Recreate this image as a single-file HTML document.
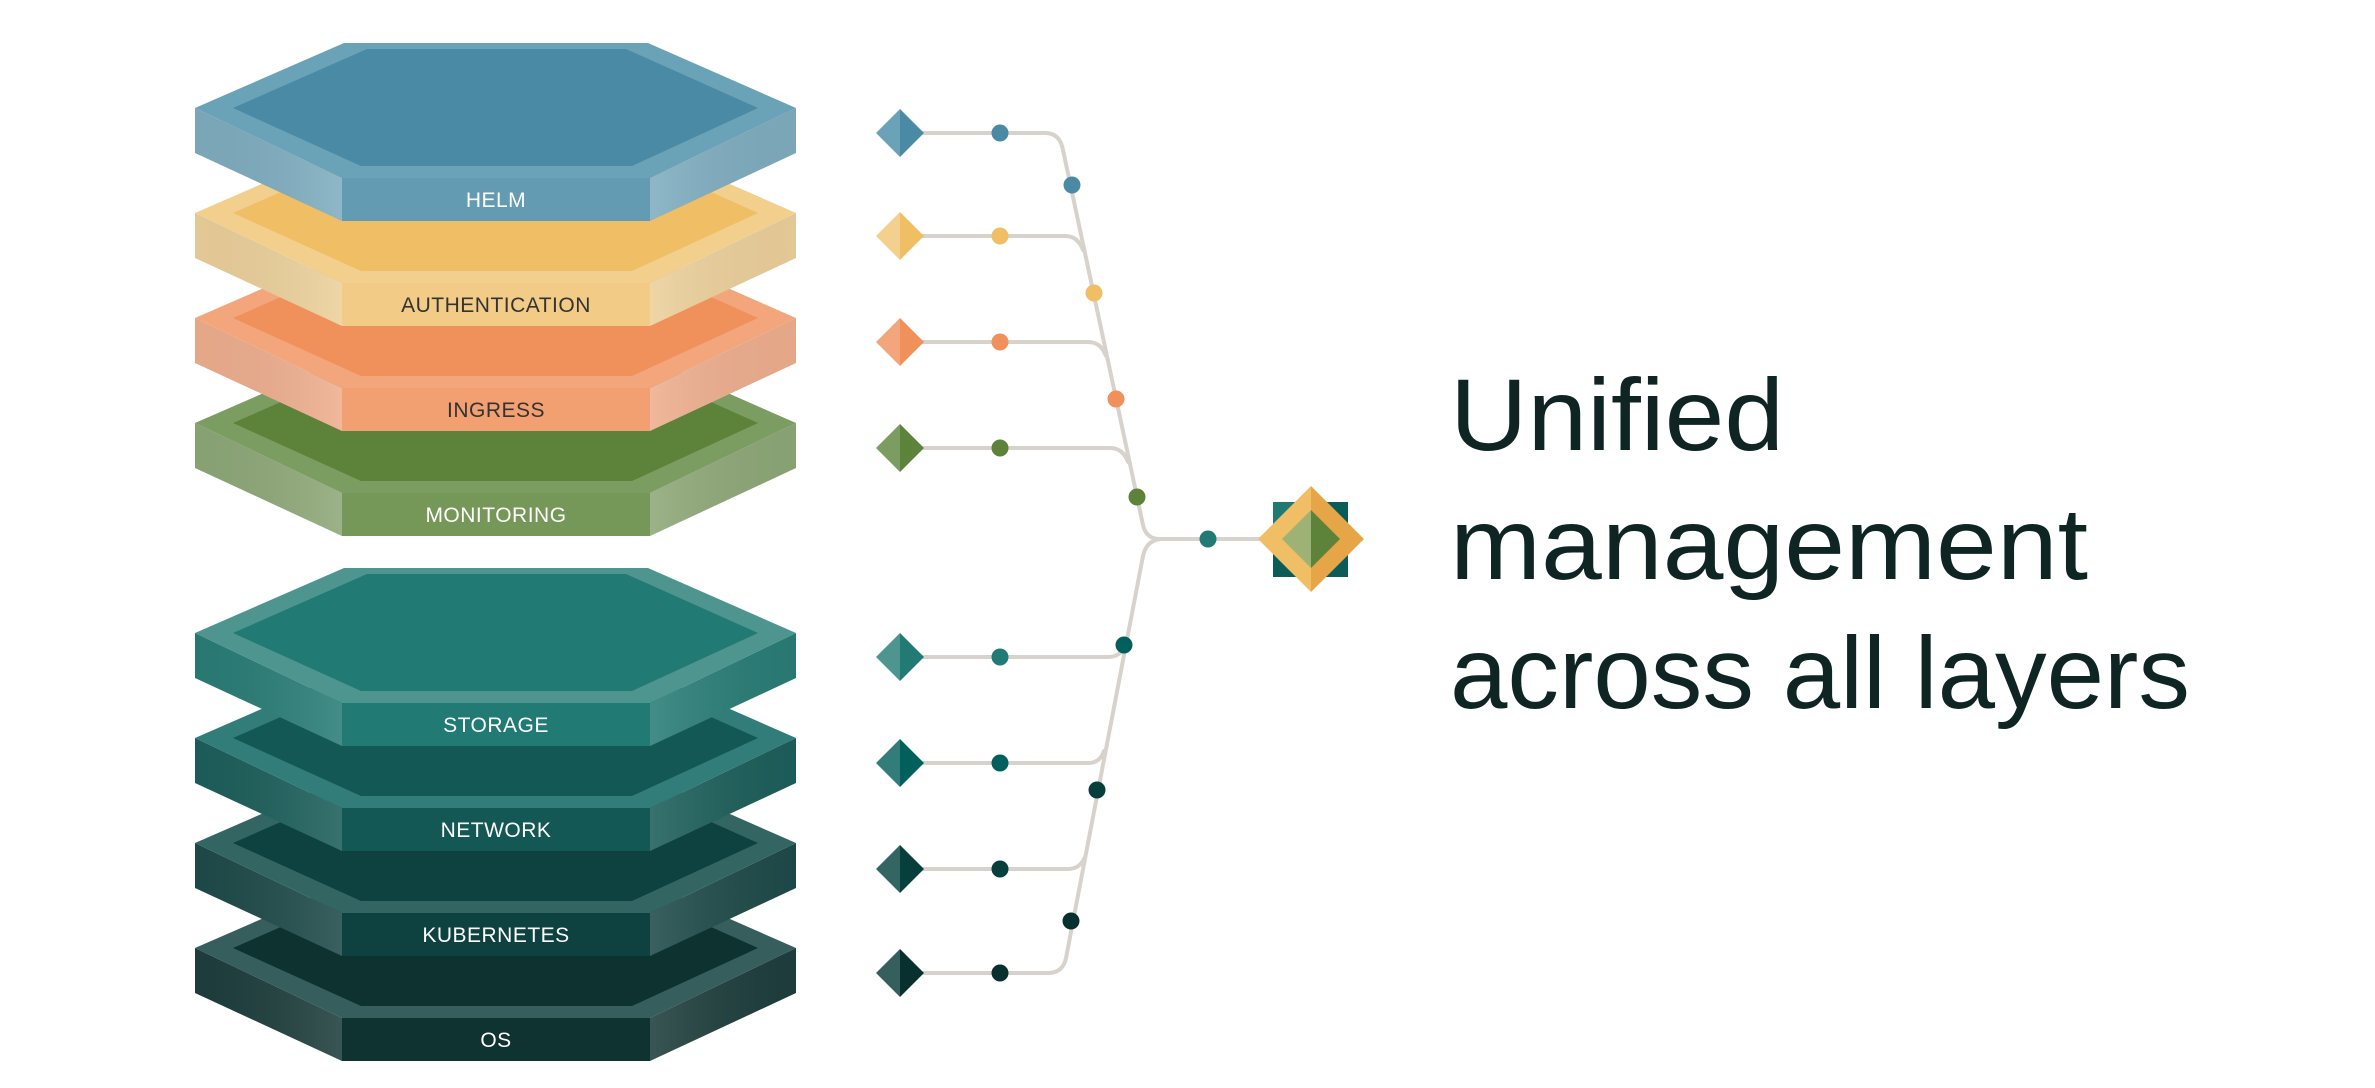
<!DOCTYPE html>
<html><head><meta charset="utf-8"><style>
html,body{margin:0;padding:0;background:#fff;}
svg{display:block;}
text{font-family:"Liberation Sans",sans-serif;}
</style></head><body>
<svg width="2375" height="1088" viewBox="0 0 2375 1088" xmlns="http://www.w3.org/2000/svg">
<defs>
<linearGradient id="gl" x1="0" y1="0" x2="1" y2="0"><stop offset="0" stop-color="#000" stop-opacity="0.04"/><stop offset="1" stop-color="#fff" stop-opacity="0.12"/></linearGradient>
<linearGradient id="gr" x1="0" y1="0" x2="1" y2="0"><stop offset="0" stop-color="#fff" stop-opacity="0.12"/><stop offset="1" stop-color="#000" stop-opacity="0.04"/></linearGradient>
<g id="sides">
<polygon points="195,108 342,178 342,221 195,153" fill="url(#gl)"/>
<polygon points="650,178 796,108 796,153 650,221" fill="url(#gr)"/>
</g>
</defs>

<g transform="translate(0,840)">
<polygon points="195,108 342,178 342,221 195,153" fill="#1e3e3d"/><polygon points="650,178 796,108 796,153 650,221" fill="#1e3e3d"/><use href="#sides"/>
<polygon points="342,178 650,178 650,221 342,221" fill="#0e3331"/>
<polygon points="344,43 648,43 796,108 650,178 342,178 195,108" fill="#365e5c"/>
<polygon points="367,49 626,49 758,108 632,166 361,166 233,108" fill="#0d3230"/>
<text x="496" y="207" font-size="21" fill="#fff" text-anchor="middle" letter-spacing="0.5">OS</text>
</g>
<g transform="translate(0,735)">
<polygon points="195,108 342,178 342,221 195,153" fill="#1f4b4a"/><polygon points="650,178 796,108 796,153 650,221" fill="#1f4b4a"/><use href="#sides"/>
<polygon points="342,178 650,178 650,221 342,221" fill="#0e4240"/>
<polygon points="344,43 648,43 796,108 650,178 342,178 195,108" fill="#336663"/>
<polygon points="367,49 626,49 758,108 632,166 361,166 233,108" fill="#0d4240"/>
<text x="496" y="207" font-size="21" fill="#fff" text-anchor="middle" letter-spacing="0.5">KUBERNETES</text>
</g>
<g transform="translate(0,630)">
<polygon points="195,108 342,178 342,221 195,153" fill="#1d5f5b"/><polygon points="650,178 796,108 796,153 650,221" fill="#1d5f5b"/><use href="#sides"/>
<polygon points="342,178 650,178 650,221 342,221" fill="#145855"/>
<polygon points="344,43 648,43 796,108 650,178 342,178 195,108" fill="#327d79"/>
<polygon points="367,49 626,49 758,108 632,166 361,166 233,108" fill="#145855"/>
<text x="496" y="207" font-size="21" fill="#fff" text-anchor="middle" letter-spacing="0.5">NETWORK</text>
</g>
<g transform="translate(0,525)">
<polygon points="195,108 342,178 342,221 195,153" fill="#2a7d77"/><polygon points="650,178 796,108 796,153 650,221" fill="#2a7d77"/><use href="#sides"/>
<polygon points="342,178 650,178 650,221 342,221" fill="#217a74"/>
<polygon points="344,43 648,43 796,108 650,178 342,178 195,108" fill="#4e958f"/>
<polygon points="367,49 626,49 758,108 632,166 361,166 233,108" fill="#217a74"/>
<text x="496" y="207" font-size="21" fill="#fff" text-anchor="middle" letter-spacing="0.5">STORAGE</text>
</g>

<g transform="translate(0,315)">
<polygon points="195,108 342,178 342,221 195,153" fill="#8ea878"/><polygon points="650,178 796,108 796,153 650,221" fill="#8ea878"/><use href="#sides"/>
<polygon points="342,178 650,178 650,221 342,221" fill="#759757"/>
<polygon points="344,43 648,43 796,108 650,178 342,178 195,108" fill="#7c9d62"/>
<polygon points="367,49 626,49 758,108 632,166 361,166 233,108" fill="#5d823a"/>
<text x="496" y="207" font-size="21" fill="#fff" text-anchor="middle" letter-spacing="0.5">MONITORING</text>
</g>
<g transform="translate(0,210)">
<polygon points="195,108 342,178 342,221 195,153" fill="#eeae8e"/><polygon points="650,178 796,108 796,153 650,221" fill="#eeae8e"/><use href="#sides"/>
<polygon points="342,178 650,178 650,221 342,221" fill="#f29f72"/>
<polygon points="344,43 648,43 796,108 650,178 342,178 195,108" fill="#f3a67c"/>
<polygon points="367,49 626,49 758,108 632,166 361,166 233,108" fill="#f0905a"/>
<text x="496" y="207" font-size="21" fill="#333" text-anchor="middle" letter-spacing="0.5">INGRESS</text>
</g>
<g transform="translate(0,105)">
<polygon points="195,108 342,178 342,221 195,153" fill="#ecd09b"/><polygon points="650,178 796,108 796,153 650,221" fill="#ecd09b"/><use href="#sides"/>
<polygon points="342,178 650,178 650,221 342,221" fill="#f2cb87"/>
<polygon points="344,43 648,43 796,108 650,178 342,178 195,108" fill="#f3cf8e"/>
<polygon points="367,49 626,49 758,108 632,166 361,166 233,108" fill="#efbe65"/>
<text x="496" y="207" font-size="21" fill="#333" text-anchor="middle" letter-spacing="0.5">AUTHENTICATION</text>
</g>
<g>
<polygon points="195,108 342,178 342,221 195,153" fill="#7fadc0"/><polygon points="650,178 796,108 796,153 650,221" fill="#7fadc0"/><use href="#sides"/>
<polygon points="342,178 650,178 650,221 342,221" fill="#629bb2"/>
<polygon points="344,43 648,43 796,108 650,178 342,178 195,108" fill="#6aa2b7"/>
<polygon points="367,49 626,49 758,108 632,166 361,166 233,108" fill="#4a8aa4"/>
<text x="496" y="207" font-size="21" fill="#fff" text-anchor="middle" letter-spacing="0.5">HELM</text>
</g>

<g fill="none" stroke="#d8d2cc" stroke-width="4" stroke-linecap="round">
<path d="M920,133 H1045 Q1060,133 1063,150 L1143,525 Q1146,539 1160,539 H1275"/>
<path d="M920,236 H1065 Q1078,236 1083,250"/>
<path d="M920,342 H1088 Q1101,342 1106,356"/>
<path d="M920,448 H1110 Q1123,448 1128,462"/>
<path d="M1160,539 Q1146,541 1143,556 L1066,958 Q1063,973 1048,973 H920"/>
<path d="M920,657 H1108 Q1121,657 1125,645"/>
<path d="M920,763 H1088 Q1100,763 1104,751"/>
<path d="M920,869 H1068 Q1080,869 1085,857"/>
</g>

<g>
<polygon points="876,133 900,109 900,157" fill="#6aa2b7"/><polygon points="900,109 924,133 900,157" fill="#4a8aa4"/>
<polygon points="876,236 900,212 900,260" fill="#f4d08f"/><polygon points="900,212 924,236 900,260" fill="#efbe65"/>
<polygon points="876,342 900,318 900,366" fill="#f3a67c"/><polygon points="900,318 924,342 900,366" fill="#f0905a"/>
<polygon points="876,448 900,424 900,472" fill="#7c9d62"/><polygon points="900,424 924,448 900,472" fill="#5d823a"/>
<polygon points="876,657 900,633 900,681" fill="#4e958f"/><polygon points="900,633 924,657 900,681" fill="#217a74"/>
<polygon points="876,763 900,739 900,787" fill="#327d79"/><polygon points="900,739 924,763 900,787" fill="#02605c"/>
<polygon points="876,869 900,845 900,893" fill="#336663"/><polygon points="900,845 924,869 900,893" fill="#063f3c"/>
<polygon points="876,973 900,949 900,997" fill="#365e5c"/><polygon points="900,949 924,973 900,997" fill="#08302e"/>
</g>

<g>
<circle cx="1000" cy="133" r="8.5" fill="#4a8aa4"/>
<circle cx="1072" cy="185" r="8.5" fill="#4a8aa4"/>
<circle cx="1000" cy="236" r="8.5" fill="#efbe65"/>
<circle cx="1094" cy="293" r="8.5" fill="#efbe65"/>
<circle cx="1000" cy="342" r="8.5" fill="#f0905a"/>
<circle cx="1116" cy="399" r="8.5" fill="#f0905a"/>
<circle cx="1000" cy="448" r="8.5" fill="#5d823a"/>
<circle cx="1137" cy="497" r="8.5" fill="#5d823a"/>
<circle cx="1208" cy="539" r="8.5" fill="#217a74"/>
<circle cx="1124" cy="645" r="8.5" fill="#02605c"/>
<circle cx="1000" cy="657" r="8.5" fill="#217a74"/>
<circle cx="1000" cy="763" r="8.5" fill="#02605c"/>
<circle cx="1097" cy="790" r="8.5" fill="#063f3c"/>
<circle cx="1000" cy="869" r="8.5" fill="#063f3c"/>
<circle cx="1071" cy="921" r="8.5" fill="#08302e"/>
<circle cx="1000" cy="973" r="8.5" fill="#08302e"/>
</g>

<g>
<rect x="1273" y="502" width="75" height="75" fill="#1f7a74"/>
<polygon points="1273,577 1273,540 1310,577" fill="#0a5c58"/>
<polygon points="1348,577 1348,540 1311,577" fill="#0a5c58"/>
<polygon points="1348,502 1348,540 1311,502" fill="#0a5c58"/>
<polygon points="1258,539 1311,486 1311,592" fill="#efbe65"/>
<polygon points="1311,486 1364,539 1311,592" fill="#e6a546"/>
<polygon points="1282,539 1311,510 1311,568" fill="#9fb276"/>
<polygon points="1311,510 1340,539 1311,568" fill="#5d823a"/>
</g>

<g fill="#0e2523" font-size="102">
<text x="1450" y="450" textLength="334" lengthAdjust="spacingAndGlyphs">Unified</text>
<text x="1450" y="579" textLength="638" lengthAdjust="spacingAndGlyphs">management</text>
<text x="1450" y="708" textLength="740" lengthAdjust="spacingAndGlyphs">across all layers</text>
</g>
</svg>
</body></html>
